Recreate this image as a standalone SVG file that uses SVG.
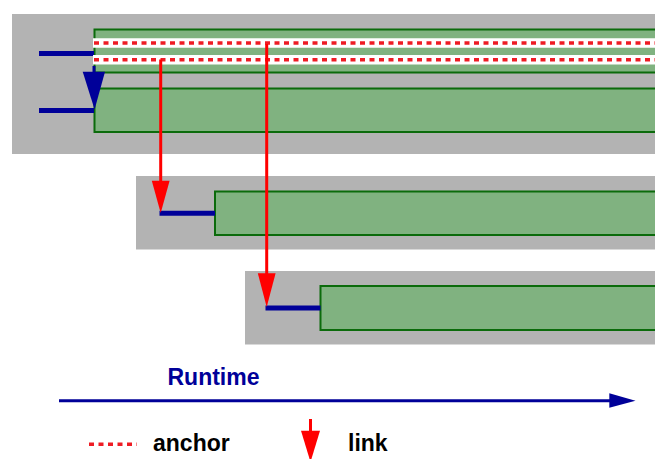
<svg xmlns="http://www.w3.org/2000/svg" width="655" height="459" viewBox="0 0 655 459">
  <defs>
    <style>
      .panel { fill: #b3b3b3; }
      .bar { fill: #80b280; stroke: #0b6b0b; stroke-width: 2; }
      .span { stroke: #000099; stroke-width: 5; fill: none; }
      .band { stroke: #ffffff; stroke-width: 9.5; fill: none; }
      .anchor { stroke: #ee1c24; stroke-width: 3.4; stroke-dasharray: 5 4.5; fill: none; }
      .link { stroke: #ff0000; stroke-width: 3; fill: none; }
      .headRed { fill: #ff0000; }
      .headBlue { fill: #000099; }
      .label { font-family: "Liberation Sans", Arial, Helvetica, sans-serif; font-weight: bold; font-size: 23px; }
    </style>
  </defs>

  <!-- first task: two segments with anchors -->
  <g id="task1">
    <rect class="panel" x="12" y="14" width="660" height="140"/>
    <rect class="bar" x="94.5" y="29.5" width="580" height="43"/>
    <rect class="bar" x="94.5" y="88.5" width="580" height="43.5"/>
    <line class="span" x1="39" y1="53.5" x2="94" y2="53.5"/>
    <line class="span" x1="39" y1="110.5" x2="94" y2="110.5"/>
    <line class="band" x1="93" y1="43" x2="660" y2="43"/>
    <line class="band" x1="93" y1="59.7" x2="660" y2="59.7"/>
    <line class="anchor" x1="94" y1="43" x2="660" y2="43"/>
    <line class="anchor" x1="94" y1="59.7" x2="660" y2="59.7"/>
  </g>

  <!-- second task -->
  <g id="task2">
    <rect class="panel" x="136" y="176" width="530" height="73.5"/>
    <rect class="bar" x="215" y="191.5" width="450" height="43.5"/>
    <line class="span" x1="159.5" y1="213.3" x2="215" y2="213.3"/>
  </g>

  <!-- third task -->
  <g id="task3">
    <rect class="panel" x="245" y="271" width="420" height="73.5"/>
    <rect class="bar" x="320.5" y="286" width="340" height="44"/>
    <line class="span" x1="265.5" y1="308" x2="320.5" y2="308"/>
  </g>

  <!-- connectors -->
  <g id="connectors">
    <line x1="94" y1="66" x2="94" y2="74" stroke="#000099" stroke-width="3"/>
    <polygon class="headBlue" points="82.7,71.7 105,71.7 94.6,109.5"/>
    <line class="link" x1="160.7" y1="59.5" x2="160.7" y2="190"/>
    <polygon class="headRed" points="151.8,180.7 169.6,180.7 160.7,213"/>
    <line class="link" x1="266.7" y1="44" x2="266.7" y2="283"/>
    <polygon class="headRed" points="257.8,273.3 275.6,273.3 266.7,307"/>
  </g>

  <!-- time axis -->
  <g id="axis">
    <line x1="59" y1="400.7" x2="612" y2="400.7" stroke="#000099" stroke-width="3"/>
    <polygon class="headBlue" points="609.3,393.3 635.5,400.7 609.3,407.8"/>
    <text class="label" x="167.5" y="385" fill="#000099">Runtime</text>
  </g>

  <!-- legend -->
  <g id="legend">
    <line class="anchor" x1="89" y1="444.3" x2="137" y2="444.3"/>
    <text class="label" x="153" y="450.7" fill="#000000">anchor</text>
    <line class="link" x1="310.5" y1="419" x2="310.5" y2="440"/>
    <polygon class="headRed" points="301,430.7 320,430.7 310.5,462"/>
    <text class="label" x="348" y="450.7" fill="#000000">link</text>
  </g>
</svg>
